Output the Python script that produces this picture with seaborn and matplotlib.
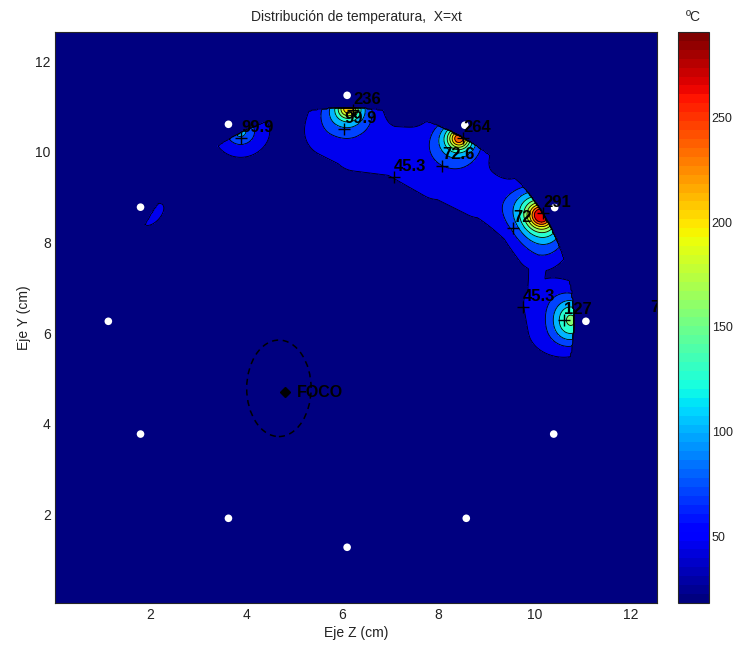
import numpy as np
import matplotlib
matplotlib.use('Agg')
import matplotlib.pyplot as plt
from matplotlib.patches import Ellipse
import seaborn as sns
import pandas as pd

# temperature field (cm, degC above the minimum)
t_min = 18.0
t_max = 291.0
spot_x = [6.13, 8.43, 10.15, 10.78, 3.88, 2.07]
spot_y = [10.96, 10.30, 8.60, 6.29, 10.45, 8.62]
body_amp = [100, 110, 140, 110, 68, 40]
body_st = [0.36, 0.37, 0.45, 0.35, 0.42, 0.33]
body_sr = [0.34, 0.36, 0.36, 0.28, 0.42, 0.17]
core_amp = [95, 115, 125, 0, 30, 0]
core_s = [0.14, 0.15, 0.17, 0.1, 0.1, 0.1]
spot_ang = [0, 150, 121, 90, 27, 51]

# warm band that joins the spots (segments of its mid line)
band_x0 = [5.75, 6.30, 7.20, 8.00, 8.85, 9.70, 10.08, 10.30]
band_y0 = [10.40, 10.10, 9.98, 9.50, 9.05, 8.50, 7.80, 6.65]
band_x1 = [6.30, 7.20, 8.00, 8.85, 9.70, 10.08, 10.03, 10.40]
band_y1 = [10.10, 9.98, 9.50, 9.05, 8.50, 7.80, 7.00, 6.10]
band_w = [0.57, 0.60, 0.63, 0.57, 0.50, 0.46, 0.19, 0.60]
band_amp = [40, 40, 40, 40, 40, 40, 40, 40]

domain_cx, domain_cy, domain_r = 6.1, 6.26, 4.72

sensor_z = [6.10, 8.55, 10.42, 11.07, 10.40, 8.58, 6.10, 3.63, 1.80, 1.13, 1.80, 3.63]
sensor_y = [11.25, 10.59, 8.77, 6.26, 3.77, 1.91, 1.27, 1.91, 3.77, 6.26, 8.78, 10.61]

label_text = ['236', '99.9', '264', '72.6', '45.3', '99.9', '291', '72', '45.3', '127']
label_z = [6.23, 6.04, 8.51, 8.08, 7.08, 3.90, 10.18, 9.55, 9.76, 10.61]
label_y = [10.92, 10.50, 10.30, 9.70, 9.44, 10.30, 8.65, 8.31, 6.57, 6.28]

foco_z, foco_y = 4.81, 4.69

cb_ticks = [50, 100, 150, 200, 250]


def gauss(X, Y, x0, y0, amp, st, sr, ang):
    a = np.deg2rad(ang)
    u = (X - x0) * np.cos(a) + (Y - y0) * np.sin(a)
    v = -(X - x0) * np.sin(a) + (Y - y0) * np.cos(a)
    return amp * np.exp(-(u ** 2 / (2 * st ** 2) + v ** 2 / (2 * sr ** 2)))


def seg_dist(X, Y, x0, y0, x1, y1):
    dx, dy = x1 - x0, y1 - y0
    t = np.clip(((X - x0) * dx + (Y - y0) * dy) / (dx * dx + dy * dy), 0, 1)
    return np.hypot(X - (x0 + t * dx), Y - (y0 + t * dy))


z = np.linspace(0, 12.6, 600)
y = np.linspace(0, 12.7, 600)
Z, Y = np.meshgrid(z, y)
band = np.zeros_like(Z)
for i in range(len(band_x0)):
    d = seg_dist(Z, Y, band_x0[i], band_y0[i], band_x1[i], band_y1[i])
    band = np.maximum(band, band_amp[i] * np.exp(-d ** 2 / (2 * band_w[i] ** 2)))
T = t_min + band
for i in range(len(spot_x)):
    T += gauss(Z, Y, spot_x[i], spot_y[i], body_amp[i], body_st[i], body_sr[i], spot_ang[i])
    T += gauss(Z, Y, spot_x[i], spot_y[i], core_amp[i], core_s[i], core_s[i], 0)
inside = (Z - domain_cx) ** 2 + (Y - domain_cy) ** 2 < domain_r ** 2
T = np.where(inside, T, t_min)
T = np.clip(T, t_min, t_max - 0.01)

sns.set_style('white')
plt.rcParams['font.family'] = ['Liberation Sans', 'DejaVu Sans']
plt.rcParams['axes.linewidth'] = 0.8

cmap = matplotlib.colormaps['jet'].resampled(64)
norm = matplotlib.colors.Normalize(vmin=t_min, vmax=t_max)
levels = np.linspace(t_min, t_max, 11)
band_colors = [cmap(norm(l)) for l in levels[:-1]]

fig = plt.figure(figsize=(7.34, 6.46), dpi=100)
ax = fig.add_axes([0.0756, 0.0666, 0.8195, 0.884])
cax = fig.add_axes([0.9237, 0.0666, 0.0422, 0.884])

ax.contourf(Z, Y, T, levels=levels, colors=band_colors)
ax.contour(Z, Y, T, levels=levels[1:], colors='k', linewidths=0.6)

sensors = pd.DataFrame({'z': sensor_z, 'y': sensor_y})
sns.scatterplot(data=sensors, x='z', y='y', ax=ax, color='white', s=30,
                edgecolor='none', marker='o', legend=False)

marks = pd.DataFrame({'z': label_z, 'y': label_y})
sns.scatterplot(data=marks, x='z', y='y', ax=ax, color='k', marker='+',
                s=70, linewidth=1, legend=False)
for txt, lz, ly in zip(label_text, label_z, label_y):
    ax.text(lz, ly + 0.24, txt, fontsize=12, fontweight='bold', color='k',
            ha='left', va='center')
ax.text(12.40, 6.57, '7', fontsize=12, fontweight='bold', color='k',
        ha='left', va='center', clip_on=True)

ax.add_patch(Ellipse((4.68, 4.78), 1.34, 2.13, fill=False, ec='k',
                     ls=(0, (4, 3)), lw=1.1))
ax.plot(foco_z, foco_y, marker='D', color='k', ms=5)
ax.text(foco_z + 0.24, foco_y, 'FOCO', fontsize=11.5, fontweight='bold',
        color='k', ha='left', va='center')

ax.set_xlim(0.03, 12.55)
ax.set_ylim(0.04, 12.65)
ax.set_xticks([2, 4, 6, 8, 10, 12])
ax.set_yticks([2, 4, 6, 8, 10, 12])
ax.tick_params(direction='in', top=True, right=True, length=5, labelsize=10,
               labelcolor='#222222')
ax.set_xlabel('Eje Z (cm)', fontsize=10, labelpad=3, color='#222222')
ax.set_ylabel('Eje Y (cm)', fontsize=10, labelpad=3, color='#222222')
ax.set_title('Distribución de temperatura,  X=xt', fontsize=10, pad=8)

sm = matplotlib.cm.ScalarMappable(norm=norm, cmap=cmap)
cb = fig.colorbar(sm, cax=cax, ticks=cb_ticks)
cb.outline.set_linewidth(0.8)
cax.tick_params(direction='in', left=True, right=True, length=5, labelsize=9,
                pad=2, labelcolor='#222222')
cax.set_title('ºC', fontsize=10, pad=8)

fig.savefig('out.png', dpi=100)
